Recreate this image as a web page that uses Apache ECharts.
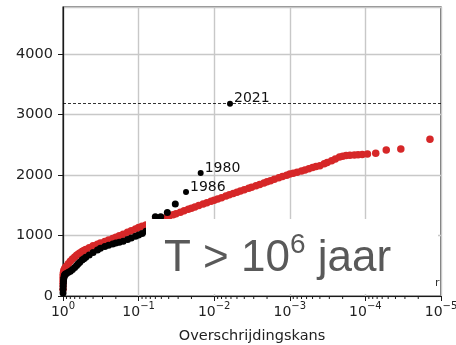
<!DOCTYPE html>
<html>
<head>
<meta charset="utf-8">
<script src="https://cdn.jsdelivr.net/npm/echarts@6/dist/echarts.min.js"></script>
<style>
  html, body { margin: 0; padding: 0; background: #ffffff; }
  #chart { width: 456px; height: 345px; }
</style>
</head>
<body>
<div id="chart"></div>
<script>
// Model simulation: exceedance probability and level
const modelP = [
  0.9995, 0.999, 0.998, 0.996, 0.993, 0.99, 0.985, 0.975, 0.95, 0.93,
  0.9, 0.85, 0.8, 0.75, 0.7, 0.66, 0.63, 0.6, 0.56, 0.53,
  0.5, 0.45, 0.4, 0.35, 0.32, 0.28, 0.25, 0.22, 0.2, 0.18,
  0.16, 0.14, 0.125, 0.11,
  0.1, 0.09, 0.08, 0.07, 0.063, 0.056, 0.05, 0.045, 0.04, 0.035,
  0.032, 0.028, 0.025, 0.022, 0.02, 0.018, 0.016, 0.014, 0.0125, 0.011,
  0.01, 0.009, 0.008, 0.007, 0.0063, 0.0056, 0.005, 0.0045, 0.004, 0.0035,
  0.0032, 0.0028, 0.0025, 0.0022, 0.002, 0.0018, 0.0016, 0.0014, 0.00125, 0.0011,
  0.001, 0.0009, 0.0008, 0.0007, 0.00063, 0.00056, 0.0005, 0.00045, 0.0004, 0.00035,
  0.00032, 0.00028, 0.00025, 0.00022, 0.0002, 0.00018, 0.00016, 0.00014, 0.000125, 0.00011,
  9.4e-5, 7.3e-5, 5.3e-5, 3.4e-5, 1.4e-5
];
const modelValue = [
  110, 180, 240, 290, 330, 360, 390, 420, 450, 470,
  490, 535, 575, 612, 645, 672, 690, 712, 735, 752,
  770, 800, 830, 858, 875, 903, 927, 951, 972, 996,
  1023, 1054, 1081, 1110,
  1131, 1152, 1175, 1202, 1223, 1247, 1270, 1291, 1315, 1342,
  1360, 1387, 1409, 1433, 1452, 1472, 1495, 1520, 1542, 1567,
  1584, 1605, 1627, 1653, 1673, 1695, 1718, 1737, 1759, 1784,
  1800, 1825, 1846, 1870, 1888, 1908, 1930, 1955, 1976, 1999,
  2017, 2032, 2048, 2068, 2086, 2106, 2126, 2140, 2156, 2187,
  2207, 2239, 2268, 2301, 2313, 2324, 2330, 2334, 2338, 2342,
  2350, 2360, 2416, 2433, 2592
];

// Observed annual maxima
const obsP = [
  0.999, 0.997, 0.994, 0.99, 0.985, 0.98, 0.97, 0.96, 0.95, 0.93,
  0.9, 0.85, 0.8, 0.75, 0.7, 0.66, 0.63, 0.6, 0.56, 0.53,
  0.5, 0.45, 0.4, 0.35, 0.32, 0.28, 0.25, 0.22, 0.2, 0.18,
  0.16, 0.14, 0.125, 0.11, 0.1, 0.09, 0.08, 0.07,
  0.0601, 0.051, 0.0417, 0.0327
];
const obsValue = [
  50, 110, 160, 210, 250, 280, 310, 335, 350, 362,
  372, 392, 410, 440, 470, 505, 535, 560, 595, 618,
  640, 680, 720, 760, 790, 820, 840, 862, 875, 888,
  905, 935, 960, 990, 1010, 1035, 1070, 1180,
  1310, 1310, 1381, 1520
];

// Named extreme events
const extremeYears = ['1986', '1980', '2021'];
const extremeP = [0.0236, 0.0151, 0.00618];
const extremeValue = [1720, 2035, 3180];

// Axis tick labels (decade exponents of exceedance probability)
const xTickExponents = ['0', '\u22121', '\u22122', '\u22123', '\u22124', '\u22125'];
const minorMantissas = [2, 3, 4, 5, 6, 7, 8, 9];
const xAxisTitle = 'Overschrijdingskans';
const boxTitle = { base: 'T > 10', sup: '6', tail: ' jaar' };

const minorTicks = [];
for (let k = 1; k <= 5; k++) {
  minorMantissas.forEach(function (m) { minorTicks.push([m * Math.pow(10, -k), 0]); });
}

const zip = (a, b) => a.map((v, i) => [v, b[i]]);

const chart = echarts.init(document.getElementById('chart'), null, { renderer: 'canvas' });
const axisColor = '#1a1a1a';
const textColor = '#222222';
const font = 'DejaVu Sans';

chart.setOption({
  animation: false,
  backgroundColor: '#ffffff',
  grid: {
    left: 63, right: 15, top: 7, bottom: 49,
    containLabel: false, outerBoundsMode: 'none',
    show: true, borderColor: axisColor, borderWidth: 1.2
  },
  xAxis: {
    type: 'log', logBase: 10, min: 1e-5, max: 1, inverse: true,
    name: xAxisTitle, nameLocation: 'middle', nameGap: 33,
    nameTextStyle: { fontFamily: font, fontSize: 14.5, color: textColor },
    axisLine: { show: true, onZero: false, lineStyle: { color: axisColor, width: 1.2 } },
    axisTick: { show: true, length: 5, lineStyle: { color: axisColor, width: 1 } },
    splitLine: { show: true, lineStyle: { color: '#c8c8c8', width: 1.4 } },
    axisLabel: {
      margin: 5, showMinLabel: true, showMaxLabel: true,
      fontFamily: font, fontSize: 14, color: textColor,
      formatter: function (v) {
        const e = Math.round(Math.log10(v));
        return '{b|10}{s|' + xTickExponents[-e] + '}';
      },
      rich: {
        b: { fontFamily: font, fontSize: 14, color: textColor, lineHeight: 22 },
        s: { fontFamily: font, fontSize: 10, color: textColor, padding: [0, 0, 12, 0] }
      }
    }
  },
  yAxis: {
    type: 'value', min: 0, max: 4780, interval: 1000,
    axisLine: { show: true, lineStyle: { color: axisColor, width: 1.2 } },
    axisTick: { show: true, length: 5, lineStyle: { color: axisColor, width: 1 } },
    splitLine: { show: true, lineStyle: { color: '#c8c8c8', width: 1.4 } },
    axisLabel: {
      fontFamily: font, fontSize: 14.5, color: textColor, margin: 10, showMaxLabel: false,
      formatter: function (v) { return String(v); }
    }
  },
  series: [
    {
      name: 'minor ticks', type: 'custom', silent: true, clip: false,
      data: minorTicks, encode: { x: 0, y: 1 }, z: 5,
      renderItem: function (params, api) {
        const pt = api.coord([api.value(0), 0]);
        return {
          type: 'line',
          shape: { x1: pt[0], y1: pt[1], x2: pt[0], y2: pt[1] + 3 },
          style: { stroke: axisColor, lineWidth: 1 }
        };
      }
    },
    {
      name: 'model', type: 'scatter', symbolSize: 7.5, z: 2,
      itemStyle: { color: '#d62728', opacity: 1 },
      data: zip(modelP, modelValue)
    },
    {
      name: 'waarnemingen', type: 'scatter', symbolSize: 7, z: 3,
      itemStyle: { color: '#000000', opacity: 1 },
      data: zip(obsP, obsValue)
    },
    {
      name: 'extremen', type: 'scatter', symbolSize: 6, z: 3,
      itemStyle: { color: '#000000', opacity: 1 },
      data: zip(extremeP, extremeValue),
      label: {
        show: true, position: 'right', distance: 1, offset: [0, -5],
        fontFamily: font, fontSize: 14, color: '#111111',
        formatter: function (p) { return extremeYears[p.dataIndex]; }
      },
      markLine: {
        silent: true, symbol: ['none', 'none'],
        label: { show: false },
        lineStyle: { color: '#000000', type: [3, 2], width: 0.8 },
        data: [{ yAxis: extremeValue[2] }]
      }
    }
  ],
  graphic: [
    {
      type: 'rect', z: 100,
      shape: { x: 146, y: 219, width: 292, height: 75 },
      style: { fill: '#ffffff' }
    },
    {
      type: 'text', z: 101, x: 164, y: 231,
      style: {
        text: '{a|' + boxTitle.base + '}{b|' + boxTitle.sup + '}{a|' + boxTitle.tail + '}',
        verticalAlign: 'top',
        rich: {
          a: { fontFamily: 'Liberation Sans', fontSize: 44, fill: '#595959', lineHeight: 50, verticalAlign: 'bottom' },
          b: { fontFamily: 'Liberation Sans', fontSize: 28, fill: '#595959', lineHeight: 30, verticalAlign: 'top' }
        }
      }
    },
    {
      type: 'text', z: 101, x: 435, y: 278,
      style: { text: 'r', fontFamily: font, fontSize: 11, fill: '#333333' }
    }
  ]
});
</script>
</body>
</html>
